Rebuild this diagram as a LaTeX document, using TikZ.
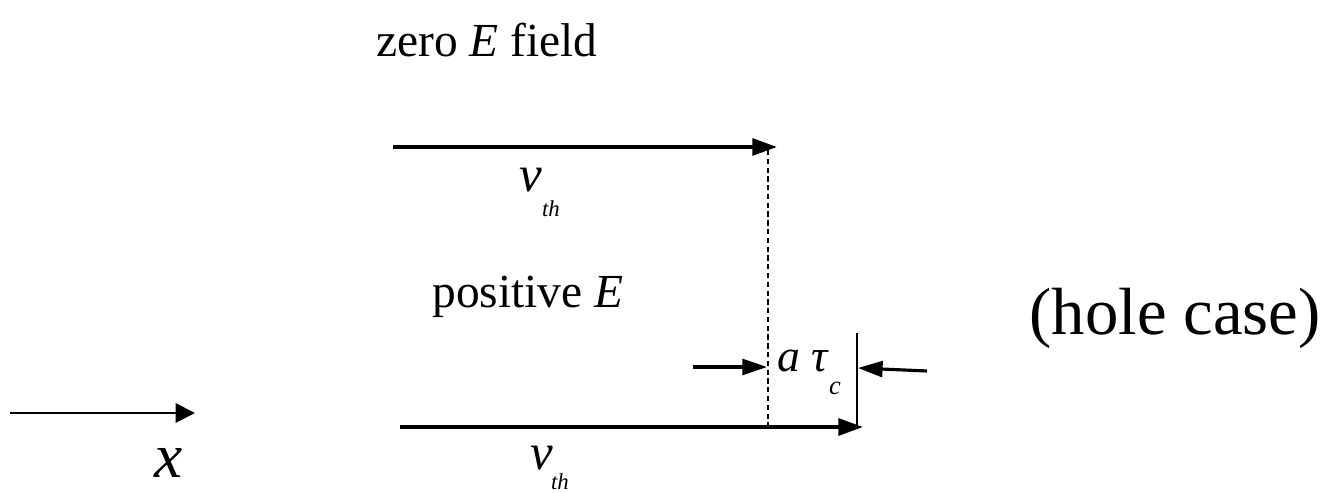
\documentclass[tikz,border=0pt]{standalone}
\usepackage{fontspec}
\setmainfont{Liberation Serif}
\usetikzlibrary{arrows.meta, positioning}

\begin{document}
\begin{tikzpicture}[
        x=0.02cm, y=-0.02cm,
        label/.style={inner sep=0pt, font=\fontsize{27}{30}\selectfont},
        big/.style={inner sep=0pt, font=\fontsize{38}{42}\selectfont},
        var/.style={inner sep=0pt, font=\fontsize{29}{32}\selectfont\itshape},
        sub/.style={inner sep=0pt, font=\fontsize{13}{15}\selectfont\itshape},
        flow/.style={line width=2.2pt, -{Triangle[length=14pt, width=9.5pt]}},
        gap/.style={line width=1.8pt, -{Triangle[length=14pt, width=9pt]}},
        axis/.style={line width=1.1pt, -{Triangle[length=11pt, width=11pt]}},
    ]
    \useasboundingbox (0,0) rectangle (1329,493);

    % ---- Labels ----
    \node[label] (zero) at (487, 40) {zero \textit{E} field};
    \node[label] (pos) at (528, 297) {positive \textit{E}};
    \node[big] (hole) at (1175, 318) {(hole case)};

    \node[var] (vtop) at (531, 180) {v};
    \node[sub] (thtop) at (551, 209) {th};
    \node[var] (vbot) at (542, 458) {v};
    \node[sub] (thbot) at (560, 482) {th};

    \node[var, font=\fontsize{26}{30}\selectfont\itshape] (atau) at (803, 361) {a τ};
    \node[sub, font=\fontsize{15}{18}\selectfont\itshape] (csub) at (835, 388) {c};

    \node[var, font=\fontsize{36}{40}\selectfont\itshape] (xlab) at (169, 463) {x};

    % ---- Coordinates ----
    \coordinate (topL) at (393, 147);
    \coordinate (topR) at (777, 147);
    \coordinate (botL) at (400, 427);
    \coordinate (botR) at (863, 427);
    \coordinate (dashT) at (768, 150);
    \coordinate (dashB) at (768, 427);
    \coordinate (edgeT) at (857, 333);
    \coordinate (edgeB) at (857, 427);
    \coordinate (inL) at (693, 367);
    \coordinate (inR) at (767, 367);
    \coordinate (outR) at (927, 371);
    \coordinate (outL) at (858, 368);
    \coordinate (axL) at (10, 413);
    \coordinate (axR) at (195, 413);

    % ---- Arrows ----
    \draw[flow] (topL) -- (topR);
    \draw[flow] (botL) -- (botR);
    \draw[dashed, line width=0.6pt, dash pattern=on 3pt off 2pt] (dashT) -- (dashB);
    \draw[line width=1pt] (edgeT) -- (edgeB);
    \draw[gap] (inL) -- (inR);
    \draw[gap] (outR) -- (outL);
    \draw[axis] (axL) -- (axR);

\end{tikzpicture}
\end{document}
